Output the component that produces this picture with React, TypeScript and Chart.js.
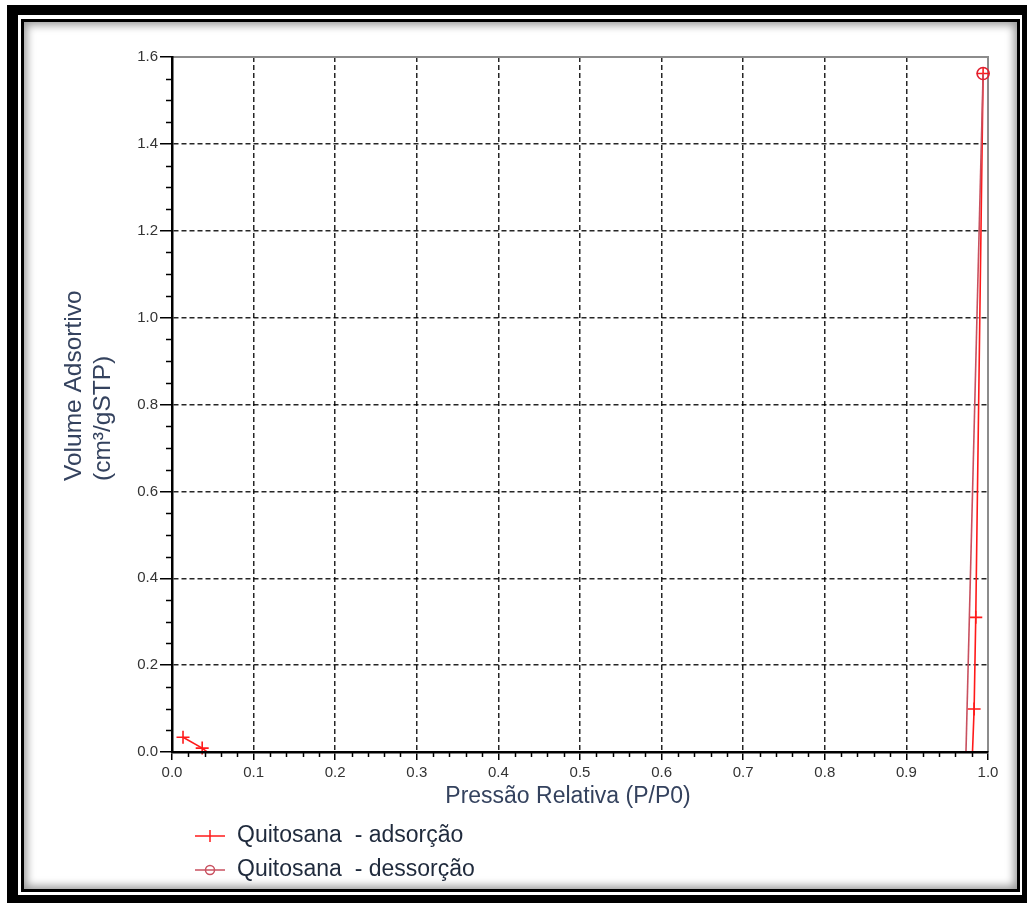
import React, { useEffect, useRef } from 'react';
import { Chart, registerables } from 'chart.js';

Chart.register(...registerables);

// ---- data ----
const adsX = [0.0135, 0.037, 0.043, 0.981, 0.983, 0.985, 0.994];
const adsY = [0.034, 0.009, 0.0, 0.0, 0.099, 0.31, 1.562];
const desX = [0.994, 0.973];
const desY = [1.562, 0.0];
const seriesLabels = ['Quitosana  - adsorção', 'Quitosana  - dessorção'];
const seriesColors = ['#ff1a1a', '#c8505f'];
const xTitle = 'Pressão Relativa (P/P0)';
const yTitleLines = ['Volume Adsortivo', '(cm³/gSTP)'];
const xRange = [0, 1];
const yRange = [0, 1.6];
const xStep = 0.1;
const yStep = 0.2;
const xMinorPerMajor = 5;
const yMinorPerMajor = 4;

const FONT = '"Liberation Sans", Arial, sans-serif';

const decorPlugin = {
  id: 'decor',
  beforeDatasetsDraw(chart: any) {
    const { ctx, chartArea: ca } = chart;
    ctx.save();
    ctx.strokeStyle = '#8c8c8c';
    ctx.lineWidth = 2;
    ctx.beginPath();
    ctx.moveTo(ca.left, ca.top);
    ctx.lineTo(ca.right, ca.top);
    ctx.lineTo(ca.right, ca.bottom);
    ctx.stroke();
    ctx.restore();
  },
  afterDraw(chart: any) {
    const { ctx, chartArea: ca, scales } = chart;
    const xs = scales.x;
    const ys = scales.y;
    ctx.save();
    // minor ticks
    ctx.strokeStyle = '#000';
    ctx.lineWidth = 1.5;
    const yMinor = yStep / yMinorPerMajor;
    const nY = Math.round((yRange[1] - yRange[0]) / yMinor);
    for (let i = 0; i <= nY; i++) {
      if (i % yMinorPerMajor === 0) continue;
      const py = Math.round(ys.getPixelForValue(yRange[0] + i * yMinor)) + 0.5;
      ctx.beginPath();
      ctx.moveTo(ca.left - 6, py);
      ctx.lineTo(ca.left, py);
      ctx.stroke();
    }
    const xMinor = xStep / xMinorPerMajor;
    const nX = Math.round((xRange[1] - xRange[0]) / xMinor);
    for (let i = 0; i <= nX; i++) {
      if (i % xMinorPerMajor === 0) continue;
      const px = Math.round(xs.getPixelForValue(xRange[0] + i * xMinor)) + 0.5;
      ctx.beginPath();
      ctx.moveTo(px, ca.bottom);
      ctx.lineTo(px, ca.bottom + 5);
      ctx.stroke();
    }

    // axis titles
    ctx.font = `23px ${FONT}`;
    ctx.fillStyle = '#34425e';
    ctx.textAlign = 'center';
    ctx.textBaseline = 'middle';
    ctx.fillText(xTitle, (ca.left + ca.right) / 2 - 12, ca.bottom + 45);

    ctx.font = `24.5px ${FONT}`;
    const yBase = 481;
    const lineXs = [74, 103];
    yTitleLines.forEach((t, i) => {
      ctx.save();
      ctx.translate(lineXs[i], yBase);
      ctx.rotate(-Math.PI / 2);
      ctx.textAlign = 'left';
      ctx.textBaseline = 'middle';
      ctx.fillText(t, 0, 0);
      ctx.restore();
    });

    // legend
    const rows = [836, 870];
    seriesLabels.forEach((label, i) => {
      const yy = rows[i];
      ctx.strokeStyle = seriesColors[i];
      ctx.lineWidth = 1.5;
      ctx.beginPath();
      ctx.moveTo(195, yy);
      ctx.lineTo(225, yy);
      ctx.stroke();
      if (i === 0) {
        ctx.beginPath();
        ctx.moveTo(210, yy - 6);
        ctx.lineTo(210, yy + 6);
        ctx.stroke();
      } else {
        ctx.beginPath();
        ctx.arc(210, yy, 4.5, 0, Math.PI * 2);
        ctx.stroke();
      }
      ctx.font = `23px ${FONT}`;
      ctx.fillStyle = '#1f2a3c';
      ctx.textAlign = 'left';
      ctx.textBaseline = 'middle';
      ctx.fillText(label, 237, yy);
    });
    ctx.restore();
  },
};

export default function App() {
  const ref = useRef<HTMLCanvasElement | null>(null);

  useEffect(() => {
    if (!ref.current) return;
    const edge = (v: number, r: number[]) => Math.abs(v - r[0]) < 1e-9 || Math.abs(v - r[1]) < 1e-9;
    const chart = new Chart(ref.current, {
      type: 'scatter',
      data: {
        datasets: [
          {
            label: seriesLabels[0],
            data: adsX.map((x, i) => ({ x, y: adsY[i] })),
            showLine: true,
            borderColor: seriesColors[0],
            backgroundColor: seriesColors[0],
            borderWidth: 1.6,
            pointStyle: 'cross',
            pointRadius: (c: any) => (c.raw && c.raw.y === 0 ? 0 : 6.5),
            pointBorderWidth: 1.6,
            pointBorderColor: seriesColors[0],
            clip: false,
            order: 2,
          },
          {
            label: seriesLabels[1],
            data: desX.map((x, i) => ({ x, y: desY[i] })),
            showLine: true,
            borderColor: seriesColors[1],
            backgroundColor: 'rgba(0,0,0,0)',
            borderWidth: 1.6,
            pointStyle: 'circle',
            pointRadius: (c: any) => (c.raw && c.raw.y === 0 ? 0 : 6),
            pointBorderWidth: 1.6,
            pointBorderColor: '#e02030',
            clip: false,
            order: 1,
          },
        ],
      },
      options: {
        responsive: false,
        animation: false,
        events: [],
        layout: { padding: { left: 0, top: 57, right: 47, bottom: 116 } },
        plugins: { legend: { display: false }, tooltip: { enabled: false }, title: { display: false } },
        scales: {
          x: {
            type: 'linear',
            min: xRange[0],
            max: xRange[1],
            afterFit: (s: any) => { s.height = 40; },
            ticks: {
              stepSize: xStep,
              autoSkip: false,
              maxRotation: 0,
              padding: 4,
              color: '#333',
              font: { size: 15, family: FONT },
              callback: (v: any) => Number(v).toFixed(1),
            },
            grid: {
              color: (c: any) => (c.tick && edge(c.tick.value, xRange) ? 'rgba(0,0,0,0)' : 'rgba(0,0,0,0.85)'),
              lineWidth: 1.5,
              tickLength: 8,
              tickColor: '#000',
              tickWidth: 1.5,
              tickBorderDash: [],
            },
            border: { display: true, color: '#000', width: 2.5, dash: [5, 3], z: 1 },
          },
          y: {
            type: 'linear',
            min: yRange[0],
            max: yRange[1],
            afterFit: (s: any) => { s.width = 172; },
            ticks: {
              stepSize: yStep,
              autoSkip: false,
              padding: 2,
              color: '#333',
              font: { size: 15, family: FONT },
              callback: (v: any) => Number(v).toFixed(1),
            },
            grid: {
              color: (c: any) => (c.tick && edge(c.tick.value, yRange) ? 'rgba(0,0,0,0)' : 'rgba(0,0,0,0.85)'),
              lineWidth: 1.5,
              tickLength: 12,
              tickColor: '#000',
              tickWidth: 1.5,
              tickBorderDash: [],
            },
            border: { display: true, color: '#000', width: 2.5, dash: [5, 3], z: 1 },
          },
        },
      },
      plugins: [decorPlugin],
    } as any);
    return () => chart.destroy();
  }, []);

  return (
    <div style={{ position: 'absolute', left: 0, top: 0, width: 1035, height: 908, background: '#fff', overflow: 'hidden' }}>
      <div
        style={{
          position: 'absolute', left: 7, top: 5, width: 1020, height: 898, boxSizing: 'border-box',
          borderStyle: 'solid', borderColor: '#000', borderWidth: '10px 5px 8px 11px', background: '#fff',
        }}
      />
      <div
        style={{
          position: 'absolute', left: 21, top: 19, width: 999, height: 873, boxSizing: 'border-box',
          border: '3px solid #000', background: '#fff', boxShadow: 'inset 0 0 9px 3px rgba(0,0,0,0.4)',
        }}
      />
      <canvas ref={ref} width={1035} height={908} style={{ position: 'absolute', left: 0, top: 0, width: 1035, height: 908 }} />
    </div>
  );
}
